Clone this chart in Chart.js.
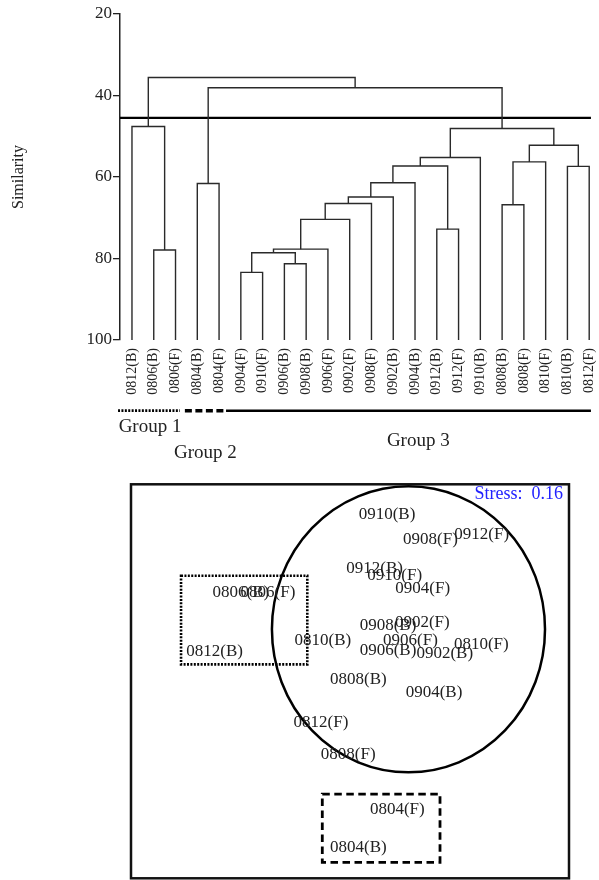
<!DOCTYPE html>
<html><head><meta charset="utf-8">
<script src="https://cdn.jsdelivr.net/npm/chart.js@4.4.1/dist/chart.umd.min.js"></script>
<style>
html,body{margin:0;padding:0;background:#fff;}
#top{position:absolute;left:0;top:0;width:599px;height:470px;}
#bot{position:absolute;left:0;top:470px;width:599px;height:410px;}
</style></head><body>
<div id="top"><canvas id="c1"></canvas></div>
<div id="bot"><canvas id="c2"></canvas></div>
<script>
// ---------- Dendrogram data ----------
const leaves = ['0812(B)','0806(B)','0806(F)','0804(B)','0804(F)','0904(F)','0910(F)','0906(B)','0908(B)','0906(F)','0902(F)','0908(F)','0902(B)','0904(B)','0912(B)','0912(F)','0910(B)','0808(B)','0808(F)','0810(F)','0810(B)','0812(F)'];
// merges: [left node, right node, similarity]; new nodes numbered 22, 23, ...
const merges = [
  [1,2,77.9],[0,22,47.6],[3,4,61.6],[5,6,83.4],[7,8,81.3],[25,26,78.6],[27,9,77.7],
  [28,10,70.4],[29,11,66.5],[30,12,64.9],[31,13,61.4],[14,15,72.8],[32,33,57.3],
  [34,16,55.2],[17,18,66.8],[36,19,56.3],[20,21,57.4],[37,38,52.2],[35,39,48.1],
  [24,40,38.1],[23,41,35.6]
];
const cutLevel = 45.5;
const cutRange = [-0.55, 21.08];
const yTicks = [20,40,60,80,100];
const groupNames = ['Group 1','Group 2','Group 3'];
const groupStart = [-0.64, 2.43, 4.32];
const groupEnd = [2.2, 4.32, 21.08];
const groupLabelX = [0.83, 3.37, 13.15];

// ---------- MDS data ----------
const mdsLabels = ['0910(B)','0908(F)','0912(F)','0912(B)','0910(F)','0904(F)','0806(B)','0806(F)','0908(B)','0902(F)','0810(B)','0906(F)','0810(F)','0906(B)','0902(B)','0812(B)','0808(B)','0904(B)','0812(F)','0808(F)','0804(F)','0804(B)'];
const mdsX = [0.338,0.735,1.203,0.225,0.408,0.664,-0.996,-0.749,0.347,0.660,-0.247,0.552,1.199,0.347,0.865,-1.236,0.076,0.767,-0.265,-0.016,0.432,0.076];
const mdsY = [1.520,1.291,1.343,1.032,0.962,0.846,0.807,0.807,0.508,0.536,0.377,0.377,0.338,0.280,0.250,0.268,0.018,-0.104,-0.378,-0.667,-1.170,-1.517];
const group3Ellipse = {cx:0.534, cy:0.475, rx:1.247, ry:1.307};
const group1Box = {x0:-1.543, x1:-0.390, y0:0.965, y1:0.155};
const group2Box = {x0:-0.253, x1:0.822, y0:-1.030, y1:-1.654};
const stressText = 'Stress:  0.16';

const SERIF = '"Liberation Serif", "DejaVu Serif", serif';
const INK = '#222';

// build dendrogram segments
const nodeX = leaves.map((_, i) => i);
const nodeH = leaves.map(() => 100);
const dendroSets = merges.map(([a, b, h]) => {
  const d = [{x:nodeX[a], y:nodeH[a]}, {x:nodeX[a], y:h}, {x:nodeX[b], y:h}, {x:nodeX[b], y:nodeH[b]}];
  nodeX.push((nodeX[a] + nodeX[b]) / 2);
  nodeH.push(h);
  return {data:d, showLine:true, borderColor:'#2a2a2a', borderWidth:1.4, pointRadius:0, fill:false, tension:0};
});
const cutSet = {data:[{x:cutRange[0], y:cutLevel},{x:cutRange[1], y:cutLevel}], showLine:true, borderColor:'#000', borderWidth:2.3, pointRadius:0, fill:false};

const groupPlugin = {
  id:'groups',
  afterDraw(chart){
    const ctx = chart.ctx, xs = chart.scales.x, b = chart.chartArea.bottom;
    const ly = b + 70.7;
    const styles = [{dash:[2,1.4], w:2.8}, {dash:[7,3.5], w:3.6}, {dash:[], w:2.6}];
    const labelY = [86.7, 113.3, 101];
    ctx.save();
    groupNames.forEach((g, i) => {
      ctx.beginPath();
      ctx.setLineDash(styles[i].dash);
      ctx.lineWidth = styles[i].w;
      ctx.strokeStyle = '#000';
      ctx.lineCap = 'butt';
      ctx.moveTo(xs.getPixelForValue(groupStart[i]), ly);
      ctx.lineTo(xs.getPixelForValue(groupEnd[i]), ly);
      ctx.stroke();
      ctx.setLineDash([]);
      ctx.fillStyle = INK;
      ctx.font = '19px ' + SERIF;
      ctx.textAlign = 'center';
      ctx.textBaseline = 'middle';
      ctx.fillText(g, xs.getPixelForValue(groupLabelX[i]), b + labelY[i]);
    });
    ctx.restore();
  }
};

new Chart(document.getElementById('c1'), {
  type:'scatter',
  data:{datasets:[...dendroSets, cutSet]},
  options:{
    responsive:true, maintainAspectRatio:false, animation:false,
    layout:{padding:{top:14, left:0, right:0, bottom:0}},
    plugins:{legend:{display:false}, tooltip:{enabled:false}},
    scales:{
      x:{type:'linear', min:-0.55, max:21.45,
        afterBuildTicks: s => { s.ticks = leaves.map((_, i) => ({value:i})); },
        afterFit: s => { s.height = 130; s.paddingLeft = 0; s.paddingRight = 0; },
        grid:{display:false, drawTicks:false}, border:{display:false},
        ticks:{autoSkip:false, minRotation:90, maxRotation:90, padding:8, color:INK,
          font:{family:SERIF, size:14}, callback:(v) => leaves[v]}},
      y:{type:'linear', reverse:true, min:20, max:100,
        afterBuildTicks: s => { s.ticks = yTicks.map(v => ({value:v})); },
        afterFit: s => { s.width = 120; s.paddingTop = 0; s.paddingBottom = 0; },
        grid:{drawOnChartArea:false, drawTicks:true, tickLength:7, color:INK, lineWidth:1.3},
        border:{display:true, color:INK, width:1.5},
        ticks:{padding:1, color:INK, font:{family:SERIF, size:17}},
        title:{display:true, text:'Similarity', color:INK, font:{family:SERIF, size:16}, padding:{top:9, bottom:0}}}
    }
  },
  plugins:[groupPlugin]
});

const mdsPlugin = {
  id:'mds',
  afterDatasetsDraw(chart){
    const ctx = chart.ctx, xs = chart.scales.x, ys = chart.scales.y, a = chart.chartArea;
    ctx.save();
    // group 3 ellipse
    const cx = xs.getPixelForValue(group3Ellipse.cx), cy = ys.getPixelForValue(group3Ellipse.cy);
    const rx = xs.getPixelForValue(group3Ellipse.cx + group3Ellipse.rx) - cx;
    const ry = cy - ys.getPixelForValue(group3Ellipse.cy + group3Ellipse.ry);
    ctx.beginPath();
    ctx.ellipse(cx, cy, rx, ry, 0, 0, Math.PI * 2);
    ctx.lineWidth = 2.5; ctx.strokeStyle = '#000'; ctx.stroke();
    // boxes
    const box = (bx, dash, w) => {
      const x0 = xs.getPixelForValue(bx.x0), x1 = xs.getPixelForValue(bx.x1);
      const y0 = ys.getPixelForValue(bx.y0), y1 = ys.getPixelForValue(bx.y1);
      ctx.beginPath(); ctx.setLineDash(dash); ctx.lineWidth = w;
      ctx.strokeRect(x0, y0, x1 - x0, y1 - y0);
      ctx.setLineDash([]);
    };
    box(group1Box, [2, 1.4], 2.6);
    box(group2Box, [7.5, 4.5], 2.8);
    // labels
    ctx.fillStyle = INK;
    ctx.font = '17px ' + SERIF;
    ctx.textAlign = 'center'; ctx.textBaseline = 'middle';
    mdsLabels.forEach((l, i) => {
      ctx.fillText(l, xs.getPixelForValue(mdsX[i]), ys.getPixelForValue(mdsY[i]));
    });
    // stress
    ctx.fillStyle = '#2222ff';
    ctx.font = '18px ' + SERIF;
    ctx.textAlign = 'right';
    ctx.fillText(stressText, a.right - 6, a.top + 10);
    // frame
    ctx.lineWidth = 2.5; ctx.strokeStyle = '#111';
    ctx.strokeRect(a.left, a.top, a.right - a.left, a.bottom - a.top);
    ctx.restore();
  }
};

new Chart(document.getElementById('c2'), {
  type:'scatter',
  data:{datasets:[{data: mdsX.map((x, i) => ({x, y:mdsY[i]})), pointRadius:0}]},
  options:{
    responsive:true, maintainAspectRatio:false, animation:false,
    layout:{padding:{left:131, right:30, top:14.3, bottom:1.7}},
    plugins:{legend:{display:false}, tooltip:{enabled:false}},
    scales:{x:{display:false, min:-2, max:2}, y:{display:false, min:-1.8, max:1.8}}
  },
  plugins:[mdsPlugin]
});
</script>
</body></html>
